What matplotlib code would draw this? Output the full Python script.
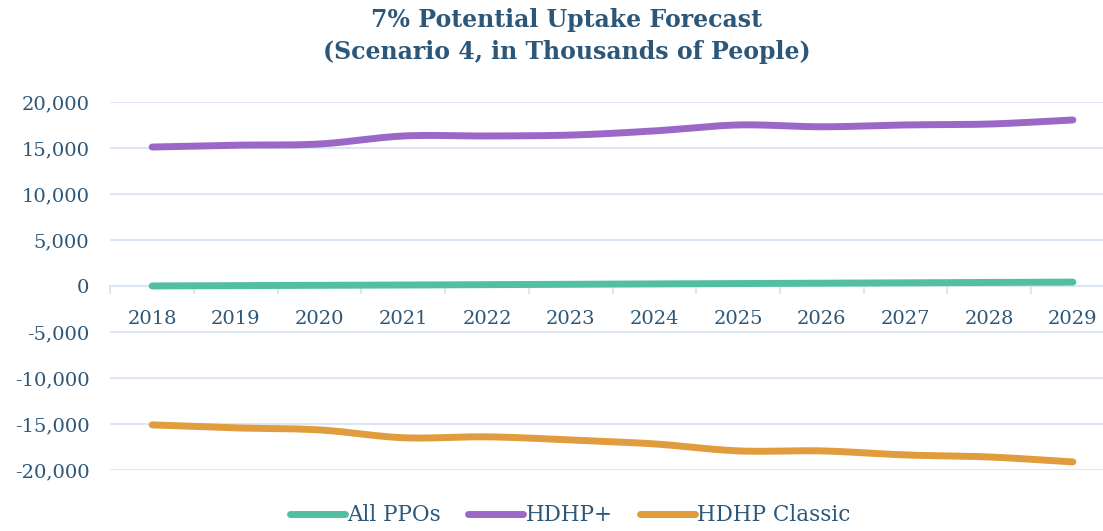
import numpy as np
import matplotlib.pyplot as plt
from matplotlib.ticker import FuncFormatter, MultipleLocator, FixedLocator

years = ['2018', '2019', '2020', '2021', '2022', '2023', '2024', '2025', '2026', '2027', '2028', '2029']
all_ppos = [0, 30, 60, 100, 140, 180, 220, 260, 300, 340, 380, 420]
hdhp_plus = [15100, 15300, 15430, 16300, 16300, 16400, 16850, 17500, 17300, 17500, 17600, 18040]
hdhp_classic = [-15100, -15430, -15650, -16500, -16400, -16740, -17170, -17930, -17930, -18370, -18590, -19130]

text_color = '#2C5779'
grid_color = '#DCE7F3'


# smooth line through the points (like Excel's "smoothed line")
def smooth(y, n=20):
    x = np.arange(len(y), dtype=float)
    y = np.asarray(y, dtype=float)
    px = np.concatenate([[2 * x[0] - x[1]], x, [2 * x[-1] - x[-2]]])
    py = np.concatenate([[2 * y[0] - y[1]], y, [2 * y[-1] - y[-2]]])
    xs, ys = [], []
    t = np.linspace(0, 1, n, endpoint=False)
    for i in range(1, len(px) - 2):
        for p, out in ((px, xs), (py, ys)):
            p0, p1, p2, p3 = p[i - 1], p[i], p[i + 1], p[i + 2]
            out.extend(0.5 * (2 * p1 + (-p0 + p2) * t + (2 * p0 - 5 * p1 + 4 * p2 - p3) * t ** 2
                              + (-p0 + 3 * p1 - 3 * p2 + p3) * t ** 3))
    xs.append(x[-1])
    ys.append(y[-1])
    return xs, ys


plt.rcParams['font.family'] = ['DejaVu Serif']

fig = plt.figure(figsize=(11.03, 5.31), dpi=100)
ax = fig.add_axes([0.1, 0.115, 0.9, 0.693])

series = [('All PPOs', all_ppos, '#52BFA1'),
          ('HDHP+', hdhp_plus, '#9B68C7'),
          ('HDHP Classic', hdhp_classic, '#E09C3D')]
for name, vals, col in series:
    sx, sy = smooth(vals)
    ax.plot(sx, sy, color=col, lw=5, solid_capstyle='round', label=name, zorder=3)

ax.set_ylim(-20000, 20000)
ax.set_xlim(-0.5, 11.36)
ax.yaxis.set_major_locator(MultipleLocator(5000))
ax.yaxis.set_major_formatter(FuncFormatter(lambda v, p: f'{int(v):,}'))
ax.grid(axis='y', color=grid_color, lw=1.5, zorder=0)

ax.set_xticks(range(len(years)))
ax.set_xticklabels(years)
ax.xaxis.set_minor_locator(FixedLocator(np.arange(-0.5, 12, 1)))
ax.tick_params(axis='x', which='major', length=0, pad=17, labelsize=14, labelcolor=text_color)
ax.tick_params(axis='x', which='minor', length=6, width=1.5, color=grid_color, direction='out')
ax.tick_params(axis='y', length=0, pad=15, labelsize=14, labelcolor=text_color)

for s in ['top', 'right', 'left']:
    ax.spines[s].set_visible(False)
ax.spines['bottom'].set_position(('data', 0))
ax.spines['bottom'].set_color(grid_color)
ax.spines['bottom'].set_linewidth(1.5)

fig.text(0.514, 0.962, '7% Potential Uptake Forecast', ha='center', va='center',
         fontsize=17, fontweight='heavy', color=text_color)
fig.text(0.514, 0.902, '(Scenario 4, in Thousands of People)', ha='center', va='center',
         fontsize=17, fontweight='heavy', color=text_color)

leg = fig.legend(loc='center', bbox_to_anchor=(0.517, 0.03), ncol=3, frameon=False,
                 fontsize=15.5, handlelength=2.55, handletextpad=0.1, columnspacing=1.3)
for t in leg.get_texts():
    t.set_color(text_color)

fig.savefig('out.png', dpi=100)
